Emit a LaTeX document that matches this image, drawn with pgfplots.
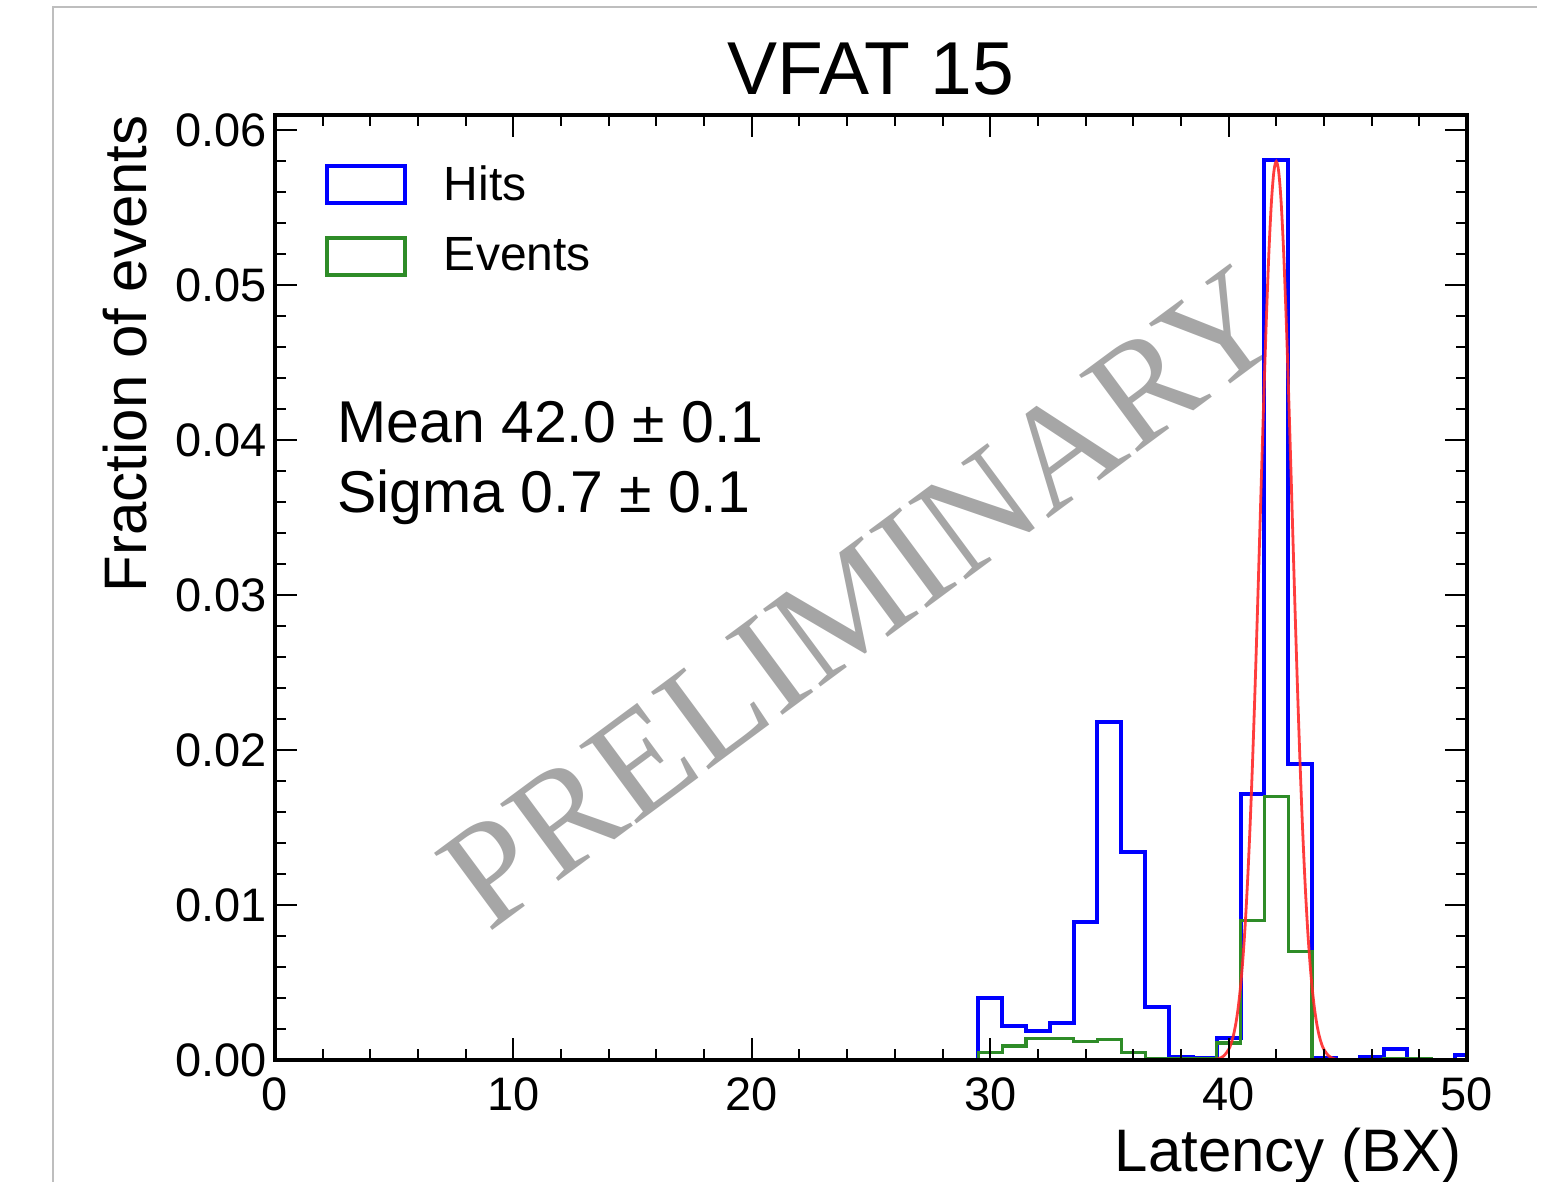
\documentclass[border=0pt]{standalone}
\usepackage{fontspec}
\setmainfont{Liberation Sans}
\newfontfamily\wmfont{Liberation Serif}
\usepackage{pgfplots}
\pgfplotsset{compat=1.18}
\definecolor{hblue}{RGB}{0,0,255}
\definecolor{hgreen}{RGB}{46,140,40}
\definecolor{hred}{RGB}{255,40,40}
\definecolor{wm}{RGB}{166,166,166}
\definecolor{frame}{RGB}{190,190,190}
\begin{document}
\begin{tikzpicture}
\useasboundingbox (-137.5pt,-61pt) rectangle (641pt,530pt);
\draw[frame, line width=0.6pt] (-111pt,-80pt) -- (-111pt,526.5pt) -- (631pt,526.5pt);
\node[text=wm, rotate=36.5, inner sep=0pt, font=\wmfont\fontsize{73.7}{80}\selectfont] at (293pt,231.5pt) {PRELIMINARY};
\begin{axis}[
  scale only axis,
  width=596pt, height=472.5pt,
  xmin=0, xmax=50, ymin=0, ymax=0.061,
  axis on top,
  axis line style={line width=2pt},
  xtick={0,10,20,30,40,50},
  ytick={0,0.01,0.02,0.03,0.04,0.05,0.06},
  minor x tick num=4, minor y tick num=4,
  tick align=inside, xtick pos=both, ytick pos=both,
  xticklabel pos=bottom, yticklabel pos=left,
  major tick length=11pt, minor tick length=5.5pt,
  tick style={line width=1pt, black},
  scaled y ticks=false,
  /pgf/number format/assume math mode=true,
  yticklabel={\pgfmathprintnumber[fixed, fixed zerofill, precision=2]{\tick}},
  ticklabel style={font=\fontsize{23.5}{28}\selectfont},
  xticklabel style={anchor=north, inner sep=0pt, yshift=-8.5pt},
  yticklabel style={anchor=east, inner sep=0pt, xshift=-3.75pt},
  title={VFAT 15},
  title style={at={(axis description cs:0.5,1.00847)}, anchor=base, inner sep=0pt, font=\fontsize{37.5}{42}\selectfont},
  xlabel={Latency (BX)},
  xlabel style={at={(axis description cs:0.99581,-0.11746)}, anchor=base east, inner sep=0pt, font=\fontsize{30}{34}\selectfont},
  ylabel={Fraction of events},
  ylabel style={at={(axis description cs:-0.10822,1.0)}, anchor=base east, inner sep=0pt, font=\fontsize{30}{34}\selectfont},
  legend style={at={(axis description cs:0.04195,0.94800)}, anchor=north west, draw=none, fill=none, inner sep=0pt, outer sep=0pt, row sep=15.6pt, font=\fontsize{24}{28}\selectfont, nodes={inner sep=0pt}},
  legend cell align=left,
  legend image code/.code={\draw[#1] (0pt,-9.5pt) rectangle (39pt,9pt);},
  /tikz/every odd column/.append style={column sep=18.5pt},
]
\addplot[hblue, line width=2pt, const plot mark left] coordinates {
(0,0) (29.5,0.0040) (30.5,0.0022) (31.5,0.0019) (32.5,0.0024) (33.5,0.0089)
(34.5,0.0218) (35.5,0.0134) (36.5,0.0034) (37.5,0.0002) (38.5,0.0001)
(39.5,0.0014) (40.5,0.0172) (41.5,0.0581) (42.5,0.0191) (43.5,0.0001)
(44.5,0.0) (45.5,0.0002) (46.5,0.0007) (47.5,0.0) (48.5,0.0) (49.5,0.0003) (50,0.0003)
};
\addlegendentry{Hits}
\addplot[hgreen, line width=1.6pt, const plot mark left] coordinates {
(0,0) (29.5,0.0005) (30.5,0.0009) (31.5,0.0014) (32.5,0.0014) (33.5,0.0012)
(34.5,0.0013) (35.5,0.0005) (36.5,0.0001) (37.5,0.0001) (38.5,0.0001)
(39.5,0.0011) (40.5,0.0090) (41.5,0.0170) (42.5,0.0070) (43.5,0.0)
(44.5,0.0) (45.5,0.0) (46.5,0.0001) (47.5,0.0001) (48.5,0.0) (49.5,0.0) (50,0.0)
};
\addlegendentry{Events}
\addplot[hred, line width=1.4pt, smooth, opacity=0.9, forget plot] coordinates {
(39.2,0.0000094) (39.4,0.0000312) (39.6,0.0000949) (39.8,0.000264) (40.0,0.000674)
(40.1,0.00104) (40.2,0.00157) (40.3,0.00232) (40.4,0.00335) (40.5,0.00473)
(40.6,0.00654) (40.7,0.00883) (40.8,0.01167) (40.9,0.01507) (41.0,0.01904)
(41.1,0.02353) (41.2,0.02843) (41.3,0.03360) (41.4,0.03884) (41.5,0.04390)
(41.6,0.04853) (41.7,0.05247) (41.8,0.05547) (41.9,0.05736) (42.0,0.05800)
(42.1,0.05736) (42.2,0.05547) (42.3,0.05247) (42.4,0.04853) (42.5,0.04390)
(42.6,0.03884) (42.7,0.03360) (42.8,0.02843) (42.9,0.02353) (43.0,0.01904)
(43.1,0.01507) (43.2,0.01167) (43.3,0.00883) (43.4,0.00654) (43.5,0.00473)
(43.6,0.00335) (43.7,0.00232) (43.8,0.00157) (43.9,0.00104) (44.0,0.000674)
(44.2,0.000264) (44.4,0.0000949) (44.6,0.0000312) (44.8,0.0000094)
};
\node[anchor=base west, inner sep=0pt, font=\fontsize{29.5}{34}\selectfont] at (axis description cs:0.05201,0.65291) {Mean 42.0 ± 0.1};
\node[anchor=base west, inner sep=0pt, font=\fontsize{29.5}{34}\selectfont] at (axis description cs:0.05201,0.57884) {Sigma 0.7 ± 0.1};
\end{axis}
\end{tikzpicture}
\end{document}
